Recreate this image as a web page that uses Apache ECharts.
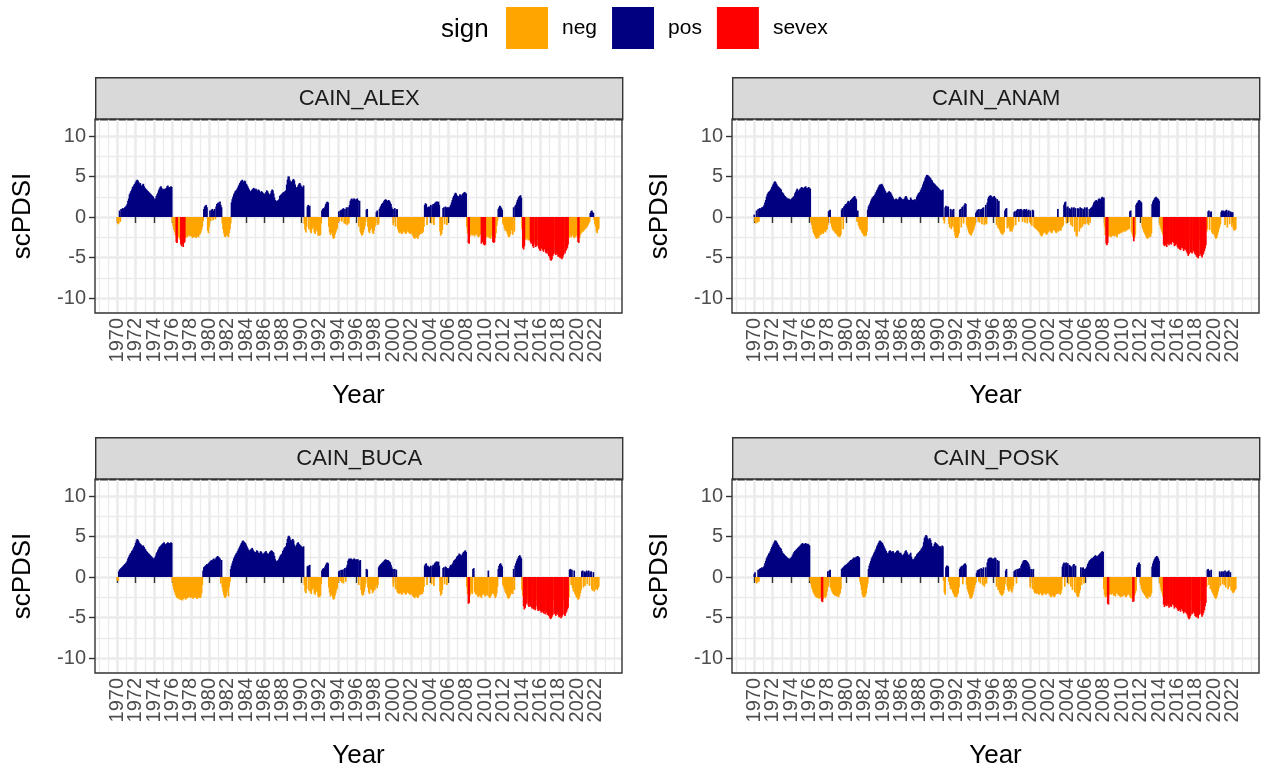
<!DOCTYPE html>
<html>
<head>
<meta charset="utf-8">
<script src="https://cdn.jsdelivr.net/npm/echarts@6/dist/echarts.min.js"></script>
<style>
  html, body { margin: 0; padding: 0; background: #ffffff; }
  #chart { width: 1261px; height: 767px; }
</style>
</head>
<body>
<div id="chart"></div>
<script>
// Monthly scPDSI per station, one row per year starting in January 1970.
const START_YEAR = 1970;
const stations = ['CAIN_ALEX', 'CAIN_ANAM', 'CAIN_BUCA', 'CAIN_POSK'];
const signs = ['neg', 'pos', 'sevex'];

const alexMonthly = [
  [-0.5,-0.9,-0.8,0.8,-0.6,1.0,1.0,1.1,1.0,1.1,1.2,1.3],
  [1.4,1.6,2.0,2.3,2.8,3.0,3.2,3.4,3.7,3.8,4.0,4.1],
  [4.3,4.5,4.6,4.5,4.3,4.1,4.2,3.9,3.8,4.0,4.1,3.8],
  [3.6,3.5,3.4,3.3,3.2,3.1,3.0,2.9,2.8,2.7,2.6,2.5],
  [2.3,2.1,2.3,2.6,2.8,3.0,3.3,3.5,3.7,3.8,3.6,3.4],
  [3.4,3.5,3.3,3.5,3.6,3.8,3.9,3.7,3.6,3.7,3.8,3.7],
  [-0.6,-1.2,-1.6,-1.9,-2.3,-3.1,-3.2,-2.5,-2.4,-2.6,-2.8,-3.4],
  [-3.6,-3.3,-3.7,-3.2,-3.1,-2.6,-2.4,-2.5,-2.3,-2.2,-2.4,-2.3],
  [-2.3,-2.4,-2.6,-2.5,-2.3,-2.5,-2.4,-2.6,-2.4,-2.3,-2.5,-2.2],
  [-2.1,-1.9,-1.6,-1.2,-0.5,1.0,1.3,1.4,1.5,1.2,-1.7,-2.0],
  [-1.2,0.8,-0.5,0.9,1.0,-0.4,0.8,1.0,-0.3,1.3,1.6,1.7],
  [1.8,1.7,1.9,1.5,1.2,-0.8,-1.5,-2.0,-2.4,-2.5,-2.3,-2.1],
  [-2.3,-2.5,-2.0,-1.5,-0.8,1.8,2.2,2.5,2.8,3.0,3.2,3.3],
  [3.4,3.6,3.8,4.0,4.2,4.4,4.5,4.6,4.4,4.3,4.5,4.4],
  [4.1,4.0,3.8,3.6,3.4,3.2,3.1,3.3,3.4,3.5,3.6,3.5],
  [3.4,3.5,3.3,3.2,3.4,3.3,3.1,3.0,3.2,3.1,3.0,2.9],
  [2.8,2.9,3.1,3.3,3.2,3.0,2.8,2.7,2.9,3.2,3.4,3.3],
  [2.9,2.4,2.1,2.0,1.9,2.0,2.1,2.2,2.6,2.7,2.8,2.9],
  [3.0,3.1,3.0,3.2,3.3,4.0,4.6,5.0,5.0,4.6,4.4,4.3],
  [4.4,4.6,4.7,4.5,4.0,3.7,3.6,3.7,3.9,4.1,4.2,4.0],
  [3.8,3.7,3.6,3.9,-0.9,-1.6,-1.9,-1.2,1.3,1.5,-1.5,1.4],
  [-1.8,-2.0,-1.5,-1.0,-1.3,-1.9,-2.1,-1.7,-1.4,-1.8,-2.3,-2.2],
  [-2.3,-2.2,-0.8,0.8,1.0,1.1,1.0,1.3,1.6,1.8,1.9,1.8],
  [-1.2,-1.9,-2.2,-2.0,-1.8,-2.4,-2.7,-2.6,-2.2,-1.9,-1.6,-1.4],
  [-0.7,0.7,-0.5,0.8,0.9,-0.6,1.0,1.1,-0.8,1.0,-0.9,1.2],
  [-1.0,1.2,-0.8,1.5,2.0,2.2,2.3,2.1,2.2,2.3,2.2,2.1],
  [2.2,2.3,2.1,-1.2,2.0,-1.8,-2.1,-2.3,-2.2,-1.9,-1.5,-1.1],
  [-0.6,0.9,1.0,-1.2,-1.8,-2.0,-1.6,-0.9,-1.4,-1.9,-2.1,-1.7],
  [-1.2,-1.0,0.6,0.8,-1.0,-0.8,1.0,1.2,1.4,1.6,1.7,1.8],
  [2.0,2.1,2.2,2.1,2.0,1.9,2.1,2.0,1.8,1.6,1.2,1.0],
  [-1.0,1.0,1.1,-1.2,0.9,1.0,-1.5,-1.8,-2.0,-1.7,-1.9,-2.1],
  [-2.0,-1.8,-1.6,-1.9,-2.1,-2.0,-1.8,-1.7,-1.9,-2.0,-2.1,-1.9],
  [-2.0,-2.2,-2.4,-2.6,-2.7,-2.5,-2.3,-2.6,-2.7,-2.4,-2.2,-2.0],
  [-2.1,-1.9,-2.0,-1.8,-1.2,1.5,1.7,1.6,-1.0,1.2,1.3,1.2],
  [1.3,1.5,-0.8,1.4,1.6,-1.0,1.7,1.8,1.9,1.9,1.8,1.9],
  [1.5,-1.8,-2.3,-2.1,-1.6,1.1,1.2,-0.9,1.3,1.2,-1.0,1.2],
  [1.2,1.1,1.3,1.5,1.8,2.1,2.4,2.6,2.8,3.0,2.9,2.7],
  [2.6,2.5,2.6,2.8,2.7,2.6,2.8,2.9,3.0,3.1,3.0,2.9],
  [-1.2,-2.0,-3.2,-3.3,-2.4,-2.2,-2.1,-2.3,-2.0,-2.2,-2.4,-2.1],
  [-2.2,-2.0,-2.3,-2.5,-2.4,-2.1,-2.2,-3.3,-3.1,-2.4,-3.4,-3.5],
  [-3.4,-2.6,-2.5,-2.3,-2.4,-2.6,-2.5,-2.7,-2.2,-2.4,-3.1,-3.2],
  [-3.1,-2.6,-2.0,-1.1,-0.5,1.0,1.2,1.4,1.3,1.1,0.9,-0.8],
  [-1.0,-1.4,-1.7,-1.5,-1.8,-2.1,-2.4,-2.5,-2.3,-2.1,-1.6,-1.0],
  [-2.2,1.2,-1.8,1.4,1.5,1.8,2.1,2.3,2.5,2.6,2.7,2.4],
  [-1.5,-3.8,-4.0,-3.6,-2.6,-2.8,-2.5,-2.7,-2.9,-2.6,-2.8,-3.1],
  [-3.3,-2.8,-3.6,-3.8,-2.9,-3.4,-3.7,-3.5,-2.8,-3.6,-3.9,-4.1],
  [-4.2,-3.9,-2.9,-4.1,-4.3,-4.0,-2.8,-4.4,-4.5,-4.2,-4.6,-4.8],
  [-5.0,-5.3,-5.4,-5.2,-4.8,-4.6,-2.9,-4.5,-4.7,-4.4,-4.6,-4.9],
  [-4.8,-5.0,-5.1,-4.9,-5.2,-5.0,-4.7,-2.9,-4.5,-4.2,-4.0,-3.8],
  [-3.4,-2.6,-2.4,-2.2,-2.5,-2.3,-2.1,-2.4,-2.6,-2.5,-2.3,-2.2],
  [-2.5,-3.1,-3.2,-2.6,-2.2,-2.0,-1.9,-1.7,-1.8,-1.6,-1.5,-1.4],
  [-1.3,-1.2,-1.0,-0.8,-0.6,0.5,0.7,0.8,0.6,0.5,-0.4,-0.9],
  [-1.2,-1.8,-2.0,-1.6,-1.4]
];

const anamMonthly = [
  [0.3,-0.6,-0.8,0.8,-0.7,1.0,-0.6,1.1,1.0,1.1,1.2,1.2],
  [1.3,1.5,1.8,2.1,2.5,2.8,3.0,3.1,3.2,3.3,3.5,3.7],
  [3.9,4.1,4.3,4.4,4.3,4.1,3.9,3.8,3.7,3.6,3.5,3.4],
  [3.1,3.0,2.9,2.7,2.6,2.5,2.4,2.3,2.2,2.3,2.2,2.1],
  [2.2,2.3,2.4,2.5,2.6,2.9,3.1,3.3,3.5,3.3,3.2,3.4],
  [3.5,3.6,3.7,3.6,3.5,3.6,3.7,3.8,3.6,3.5,3.6,3.7],
  [3.6,3.5,-0.6,-1.0,-1.5,-1.9,-2.1,-2.3,-2.5,-2.7,-2.6,-2.4],
  [-2.6,-2.3,-2.1,-2.2,-2.0,-1.9,-2.1,-1.8,-1.7,-1.9,-1.6,-1.5],
  [-1.0,0.7,0.8,0.9,-0.8,-1.2,-1.5,-1.7,-1.6,-1.9,-2.0,-2.1],
  [-2.2,-2.4,-2.3,-2.5,-2.4,-2.2,0.9,1.1,-1.5,1.3,1.4,1.6],
  [1.6,1.7,1.9,2.0,1.8,1.9,2.1,2.2,2.3,2.4,2.5,2.6],
  [2.4,2.2,-0.6,0.8,-1.0,-1.3,-1.5,-1.6,-1.8,-2.0,-2.1,-2.3],
  [-2.4,-2.2,-2.3,-1.8,0.9,1.3,1.5,1.7,2.0,2.2,2.4,2.5],
  [2.6,2.7,2.9,3.1,3.3,3.5,3.7,3.9,4.0,4.0,4.1,4.0],
  [3.8,3.6,3.4,3.2,3.0,2.9,3.0,3.1,3.2,3.1,3.0,2.8],
  [2.6,2.4,2.2,2.1,2.2,2.3,2.2,2.1,2.2,2.4,2.5,2.4],
  [2.3,2.2,2.1,2.2,2.3,2.5,2.6,2.4,2.2,2.1,2.0,2.1],
  [2.4,2.2,2.1,2.0,2.1,2.2,2.0,2.2,2.5,2.7,2.9,3.0],
  [3.1,3.3,3.5,3.7,4.0,4.3,4.5,4.8,5.0,5.2,5.2,5.1],
  [5.0,4.9,4.8,4.6,4.5,4.3,4.2,4.1,4.0,3.9,3.8,3.7],
  [3.6,3.5,3.4,3.3,3.2,3.3,3.4,-0.4,-0.8,1.2,1.4,1.3],
  [1.2,1.3,-0.9,-1.3,1.0,-1.5,0.9,-1.2,1.0,-1.8,-2.3,-2.6],
  [-2.5,-2.6,-2.3,-2.0,0.9,1.0,-1.3,1.2,1.3,-0.8,1.5,1.7],
  [1.6,-1.0,-1.3,-1.6,-1.9,-2.1,-2.2,-2.3,-2.0,-1.8,-1.6,-1.3],
  [-1.0,0.5,0.7,0.9,-0.6,1.0,-0.7,0.9,1.0,-0.9,1.1,1.2],
  [-1.0,-0.8,1.5,-0.9,1.8,2.3,2.5,2.6,2.7,2.6,2.5,2.4],
  [2.5,2.6,2.4,2.3,-1.0,2.2,-1.4,2.0,-1.6,-1.8,-2.0,-2.1],
  [-2.2,-2.0,-1.8,0.8,1.0,1.1,-1.4,-1.2,-0.9,-1.5,-1.8,-1.6],
  [-1.8,-1.5,-1.2,0.6,0.7,-1.0,0.8,0.9,1.0,-0.6,0.9,1.0],
  [1.0,0.9,-0.6,0.8,1.0,-0.7,0.9,1.0,-0.8,0.8,0.9,-0.6],
  [0.8,-0.9,-1.1,0.9,0.8,-1.2,-1.4,-1.3,-1.5,-1.6,-1.7,-1.8],
  [-1.9,-2.1,-2.3,-2.4,-2.2,-2.0,-1.9,-1.8,-2.0,-2.2,-2.1,-1.9],
  [-1.8,-1.6,-1.7,-1.9,-2.0,-1.8,-1.6,-1.5,-1.7,-1.9,-2.0,-1.8],
  [1.0,-1.8,-1.6,-1.5,-1.7,-1.3,-1.2,-1.0,1.5,1.8,1.9,-0.8],
  [1.2,1.3,-0.6,1.1,1.0,-1.0,1.2,-1.2,1.1,1.2,-1.8,1.1],
  [-2.3,-2.4,1.1,1.0,-1.8,1.2,-1.4,1.1,-1.2,1.0,-0.9,1.2],
  [-0.9,1.1,1.2,-0.8,-1.0,1.0,-0.7,1.1,1.2,1.3,1.5,1.8],
  [1.9,2.0,2.1,1.9,2.0,2.2,2.3,2.1,2.2,2.4,2.5,2.3],
  [2.4,-1.2,-2.2,-3.3,-3.5,-3.2,-2.4,-2.3,-2.2,-2.5,-2.4,-2.2],
  [-2.3,-2.2,-2.4,-2.1,-2.3,-2.5,-2.2,-2.0,-2.1,-1.9,-2.0,-1.8],
  [-1.9,-1.7,-1.8,-1.6,-1.8,-1.7,-1.5,-1.6,-1.4,-1.5,0.7,0.8],
  [-1.8,-2.1,-2.4,-3.0,-2.6,-2.2,1.5,1.7,1.8,2.0,2.1,2.0],
  [1.9,1.8,-1.2,-1.5,-1.8,-2.0,-2.2,-2.4,-2.6,-2.7,-2.5,-2.2],
  [-2.5,-2.4,-2.0,1.6,1.9,2.1,2.3,2.4,2.5,2.4,2.3,2.2],
  [2.0,-1.0,-1.3,-1.6,-1.9,-2.2,-3.4,-3.6,-3.5,-2.8,-3.7,-3.3],
  [-3.2,-3.5,-2.7,-3.3,-3.4,-3.1,-2.6,-3.2,-3.6,-3.5,-2.8,-3.4],
  [-3.7,-3.9,-2.8,-4.0,-4.1,-3.8,-2.9,-3.9,-4.2,-4.0,-2.8,-4.1],
  [-4.3,-4.5,-4.8,-4.6,-2.9,-4.4,-4.3,-4.5,-2.9,-4.2,-4.4,-4.6],
  [-4.7,-4.9,-5.0,-5.1,-4.8,-2.9,-4.6,-4.8,-5.0,-4.7,-4.5,-4.2],
  [-3.9,-3.5,-1.8,-1.5,0.7,0.8,-1.6,0.6,0.7,-1.9,-2.1,-1.8],
  [-2.2,-2.5,-2.7,-2.6,-2.3,-1.9,-1.5,-1.2,-0.9,0.6,0.8,0.7],
  [0.8,0.7,-1.0,0.8,0.9,-1.3,0.7,0.8,-0.9,0.7,0.6,-1.2],
  [0.6,-1.5,-1.7,-1.6,-1.5]
];

const bucaMonthly = [
  [-0.4,-0.5,0.7,0.9,1.0,1.1,1.2,1.3,1.4,1.5,1.6,1.7],
  [1.8,2.0,2.3,2.5,2.7,2.9,3.0,3.2,3.3,3.5,3.7,3.9],
  [4.2,4.5,4.7,4.6,4.4,4.2,4.1,4.0,3.9,3.8,3.9,3.7],
  [3.5,3.4,3.2,3.1,3.0,2.9,2.8,2.7,2.6,2.5,2.4,2.3],
  [2.3,2.4,2.6,2.9,3.1,3.3,3.5,3.7,3.8,3.9,4.0,4.1],
  [4.2,4.3,4.1,4.0,4.1,4.2,4.3,4.2,4.1,4.2,4.3,4.2],
  [-0.6,-1.2,-1.6,-1.9,-2.2,-2.4,-2.6,-2.5,-2.7,-2.6,-2.8,-2.6],
  [-2.8,-2.9,-2.7,-2.5,-2.6,-2.8,-2.7,-2.4,-2.6,-2.5,-2.3,-2.5],
  [-2.6,-2.4,-2.5,-2.7,-2.6,-2.4,-2.5,-2.6,-2.7,-2.5,-2.6,-2.4],
  [-2.6,-2.5,-2.0,-1.0,0.8,1.2,1.3,1.4,1.5,1.6,1.5,1.7],
  [1.8,1.9,2.0,2.1,2.0,2.2,2.3,2.1,2.2,2.4,2.5,2.6],
  [2.5,2.4,2.3,-0.8,2.1,-1.3,-1.8,-2.2,-2.5,-2.6,-2.3,-1.8],
  [-1.5,-2.4,-1.2,-0.6,1.0,1.4,1.7,2.0,2.3,2.5,2.7,2.9],
  [3.0,3.2,3.4,3.6,3.8,4.0,4.2,4.4,4.5,4.4,4.3,4.2],
  [4.0,3.8,3.6,3.4,3.2,3.3,3.4,3.5,3.6,3.4,3.2,3.1],
  [3.0,3.1,3.3,3.2,3.0,2.9,3.0,3.2,3.1,2.9,2.8,2.9],
  [3.0,3.1,3.2,3.0,2.9,2.8,2.9,3.1,3.2,3.3,3.2,3.1],
  [3.0,2.6,2.2,2.0,1.9,2.0,2.1,2.3,2.5,2.7,2.8,2.9],
  [3.2,3.4,3.6,3.7,3.8,4.2,4.7,5.0,5.1,4.9,4.6,4.4],
  [4.6,4.7,4.5,4.0,3.7,3.8,4.0,4.2,4.3,4.1,4.0,3.9],
  [3.8,3.7,3.6,3.8,-1.0,-1.8,-2.0,-1.5,1.3,1.4,-1.7,1.5],
  [-1.9,-2.1,-1.6,-1.2,-1.4,-2.0,-2.2,-1.8,-1.5,-1.9,-2.4,-2.5],
  [-2.5,-2.3,-0.9,0.8,1.0,1.1,1.0,1.3,1.5,1.7,1.8,1.7],
  [-1.3,-1.9,-2.4,-2.2,-1.9,-2.5,-2.8,-2.7,-2.3,-2.0,-1.6,-1.4],
  [-0.7,0.7,0.8,-0.5,0.9,-0.7,0.9,-0.8,1.0,1.1,-0.6,1.2],
  [1.5,2.0,2.2,2.3,2.2,2.3,2.2,2.1,2.2,2.3,2.2,2.1],
  [2.2,2.1,2.2,-1.0,2.0,2.1,-1.6,-2.1,-2.3,-2.2,-1.8,-1.3],
  [-0.8,1.0,0.9,-1.3,-1.9,-2.1,-1.5,-1.0,-1.6,-2.0,-1.8,-1.4],
  [-1.6,-1.2,-0.9,-1.4,-1.0,1.2,1.4,1.5,1.6,1.7,1.8,1.9],
  [2.0,2.1,2.2,2.1,2.0,2.1,2.0,1.9,1.8,1.5,1.2,1.0],
  [-1.2,1.0,1.0,-1.5,0.9,-1.8,-2.0,-1.9,-2.1,-1.8,-2.0,-2.2],
  [-2.1,-1.9,-1.7,-2.0,-2.2,-2.1,-1.9,-1.8,-2.0,-2.1,-2.2,-2.0],
  [-2.1,-2.3,-2.4,-2.5,-2.6,-2.4,-2.3,-2.5,-2.6,-2.4,-2.2,-2.1],
  [-2.2,-2.0,-2.1,-1.8,-1.2,1.4,1.6,1.7,-1.0,1.4,1.3,1.2],
  [1.2,1.4,-0.9,1.3,1.5,-1.1,1.7,1.8,1.9,1.9,1.8,1.9],
  [1.4,-1.8,-2.3,-2.1,-1.6,1.1,1.2,-0.9,1.3,1.2,-1.0,1.1],
  [1.0,1.1,1.3,1.5,1.4,1.6,1.8,2.0,2.1,2.2,2.3,2.5],
  [2.6,2.7,2.9,2.8,2.7,2.6,2.8,3.0,3.1,3.2,3.3,3.1],
  [-1.2,-2.1,-3.3,-3.2,-2.3,-2.0,-1.8,-2.1,1.0,1.1,-1.8,-2.0],
  [-2.2,-2.0,-2.3,-2.5,-2.3,-2.1,-2.4,-2.6,-2.2,-1.9,-2.1,-2.3],
  [-2.4,-2.2,-2.0,-2.3,0.8,-2.5,-2.6,-2.4,-2.2,-2.0,-1.8,-2.1],
  [-2.3,-2.6,-2.4,-2.0,-1.2,1.0,1.4,1.6,1.7,1.5,1.3,-1.0],
  [-1.2,-1.5,-1.8,-2.0,-2.2,-2.5,-2.7,-2.6,-2.4,-2.2,-2.0,-1.8],
  [-2.1,1.0,-1.6,1.4,1.7,2.0,2.2,2.4,2.6,2.7,2.5,2.3],
  [-1.6,-2.3,-3.6,-4.0,-3.8,-3.4,-3.2,-2.8,-3.5,-3.7,-3.3,-3.6],
  [-3.7,-3.9,-2.9,-4.0,-3.8,-4.1,-3.6,-2.8,-4.0,-4.2,-3.9,-4.1],
  [-4.2,-4.4,-2.9,-4.3,-4.5,-4.2,-4.6,-2.9,-4.4,-4.7,-4.5,-4.8],
  [-5.0,-5.2,-5.1,-4.9,-4.7,-2.9,-4.5,-4.6,-4.8,-4.6,-4.4,-4.7],
  [-4.9,-5.0,-4.8,-5.1,-4.9,-4.7,-2.9,-4.6,-4.8,-4.5,-4.3,-4.0],
  [-3.8,-2.5,0.9,1.0,-1.0,0.9,-1.4,-1.8,0.8,-2.1,-2.3,-2.5],
  [-2.6,-2.8,-2.7,-2.4,-2.0,-1.6,0.7,0.8,-1.3,0.7,-1.1,0.6],
  [0.8,-0.9,0.7,0.8,-1.1,0.6,0.7,-1.5,-1.7,0.6,-1.8,-1.6],
  [-1.5,-1.3,-1.6,-1.4,-1.2]
];

const poskMonthly = [
  [0.4,0.6,-0.5,-0.8,-0.7,0.9,-0.6,1.0,1.1,1.0,1.2,1.1],
  [1.2,1.4,1.7,2.0,2.3,2.5,2.7,2.9,3.0,3.2,3.5,3.7],
  [3.9,4.1,4.3,4.5,4.5,4.4,4.2,4.0,3.9,3.7,3.6,3.5],
  [3.2,3.0,2.9,2.8,2.7,2.6,2.5,2.4,2.3,2.3,2.2,2.3],
  [2.4,2.5,2.7,2.9,3.1,3.2,3.3,3.4,3.5,3.6,3.7,3.8],
  [3.9,4.0,4.1,4.2,4.1,4.0,4.1,4.2,4.1,4.0,4.1,4.0],
  [3.9,-0.5,-0.9,-1.3,-1.6,-1.9,-2.1,-2.3,-2.4,-2.5,-2.6,-2.5],
  [-2.6,-2.7,-2.5,-2.6,-3.0,-3.1,-2.7,-2.5,-2.4,-2.6,-2.3,-1.8],
  [0.7,-1.2,0.8,0.9,-1.4,-1.7,-1.9,-2.1,-2.2,-2.3,-2.2,-2.4],
  [-2.3,-2.4,-2.5,-2.2,-2.0,-1.5,1.0,1.1,1.2,1.3,1.4,1.5],
  [1.5,1.6,1.7,1.8,1.9,2.0,2.1,2.1,2.2,2.3,2.4,2.3],
  [2.4,2.5,2.5,2.6,2.5,2.4,-0.6,-1.0,-1.6,-2.2,-2.5,-2.4],
  [-2.5,-2.3,-2.0,-1.4,-0.8,1.0,1.4,1.7,2.0,2.3,2.5,2.7],
  [2.9,3.1,3.3,3.5,3.8,4.0,4.2,4.4,4.5,4.4,4.3,4.2],
  [4.0,3.8,3.6,3.4,3.2,3.0,2.9,3.0,3.2,3.3,3.2,3.1],
  [3.1,3.2,3.0,2.9,3.0,3.1,3.2,3.3,3.2,3.0,2.9,3.0],
  [2.8,2.7,2.6,2.8,3.0,3.2,3.3,3.1,2.9,2.7,2.6,2.8],
  [3.0,2.5,2.2,2.1,2.2,2.3,2.5,2.6,2.8,2.9,3.0,3.1],
  [3.2,3.3,3.5,3.6,3.8,4.3,4.8,5.0,5.2,5.1,4.8,4.5],
  [4.7,4.8,4.6,4.2,3.8,3.6,3.8,4.1,4.3,4.2,4.1,4.0],
  [3.9,3.8,3.7,3.8,3.6,3.9,3.8,-0.5,-1.9,-2.2,1.2,1.4],
  [1.4,1.3,-0.6,-1.0,-1.5,-1.3,-1.6,-1.9,-2.1,-2.3,-2.5,-2.4],
  [-2.5,-2.2,-2.0,-1.3,1.0,1.2,1.3,1.4,-0.9,1.5,1.6,1.7],
  [1.5,-1.0,-1.5,-1.8,-2.1,-2.4,-2.7,-2.6,-2.5,-2.2,-1.8,-1.4],
  [-1.0,-0.6,0.5,0.8,0.9,-0.6,1.0,-0.8,1.1,1.0,-1.0,1.2],
  [-1.2,-0.9,1.2,-0.8,1.8,2.2,2.3,2.4,2.3,2.4,2.3,2.2],
  [2.3,2.2,2.4,2.3,-1.2,2.1,-1.6,2.0,-1.9,-2.1,-2.2,-2.3],
  [-2.2,-2.0,-1.6,-0.9,0.8,1.0,-1.2,-1.6,-1.8,-1.5,-1.3,-1.7],
  [-1.9,-1.5,-1.1,0.7,0.8,0.9,-0.8,1.0,0.9,1.0,1.1,1.0],
  [1.4,1.6,1.8,2.0,2.1,2.0,2.1,2.0,1.9,1.8,1.6,1.3],
  [-1.3,1.0,0.9,-1.5,1.0,-1.8,-2.0,-1.9,-2.1,-2.0,-1.9,-2.2],
  [-2.1,-1.9,-2.0,-2.2,-2.3,-2.1,-1.9,-2.0,-2.2,-2.1,-2.0,-1.9],
  [-2.0,-2.2,-2.3,-2.5,-2.4,-2.2,-2.3,-2.5,-2.4,-2.2,-2.1,-2.0],
  [-2.1,-2.0,-1.9,-2.2,-2.0,-1.6,1.3,1.6,1.8,-1.2,1.7,1.8],
  [1.6,1.7,-0.9,1.5,1.4,-1.2,1.3,-1.6,1.5,1.6,-1.9,1.4],
  [-2.0,-2.3,-2.5,-2.4,-2.0,-1.6,1.2,-1.0,1.1,1.2,-0.8,1.0],
  [1.0,1.1,1.3,1.6,1.8,2.0,2.1,2.2,2.3,2.3,2.4,2.5],
  [2.6,2.7,2.5,2.6,2.5,2.7,2.8,2.9,3.0,3.1,3.2,3.1],
  [-1.5,-2.2,-2.5,-2.3,-2.4,-3.3,-3.4,-2.2,-2.0,-2.1,-2.2,-2.0],
  [-2.1,-2.3,-2.2,-2.4,-2.0,-1.9,-2.1,-2.3,-2.2,-2.4,-2.5,-2.3],
  [-2.4,-2.3,-2.1,-2.2,-2.4,-2.5,-2.3,-2.2,-2.0,-2.2,-2.4,-2.6],
  [-2.5,-2.7,-3.1,-3.0,-2.3,-2.0,-1.7,1.2,1.5,1.7,1.8,1.6],
  [-1.0,-1.4,-1.7,-1.9,-2.0,-2.2,-2.3,-2.5,-2.6,-2.7,-2.4,-2.2],
  [-2.5,-2.3,-2.0,1.3,1.7,2.0,2.2,2.4,2.5,2.6,2.5,2.3],
  [2.0,-0.8,-1.3,-1.7,-2.0,-2.4,-3.4,-3.7,-3.5,-2.9,-3.6,-3.3],
  [-3.5,-3.8,-2.8,-3.6,-3.7,-3.4,-2.9,-3.5,-3.9,-3.7,-2.9,-3.8],
  [-4.0,-4.2,-2.9,-4.1,-4.3,-4.0,-2.8,-4.2,-4.5,-4.3,-2.9,-4.4],
  [-4.5,-4.7,-5.0,-5.2,-5.1,-4.8,-2.9,-4.6,-4.4,-4.3,-4.5,-4.8],
  [-4.9,-5.0,-4.8,-5.1,-4.7,-4.5,-2.9,-4.6,-4.9,-4.7,-4.4,-4.1],
  [-3.6,-3.2,-1.2,0.9,1.0,-1.0,0.8,-1.5,0.9,-1.8,-2.0,-2.2],
  [-2.4,-2.6,-2.7,-2.5,-2.2,-1.8,-1.4,0.7,-1.1,0.6,0.7,-0.9],
  [0.7,-1.0,0.8,-1.3,0.6,0.7,-1.5,0.8,-1.2,0.6,-1.6,-1.7],
  [-1.9,-2.0,-1.8,-1.6,-1.5]
];

const stationMonthly = [alexMonthly, anamMonthly, bucaMonthly, poskMonthly];

// Axis breaks: labelled years are split over two bottom axes so that
// neighbouring rotated labels are never culled as overlapping.
const yearTicks = [1970,1972,1974,1976,1978,1980,1982,1984,1986,1988,1990,1992,1994,1996,
  1998,2000,2002,2004,2006,2008,2010,2012,2014,2016,2018,2020,2022];
const yearLabelsA = [1970,1974,1978,1982,1986,1990,1994,1998,2002,2006,2010,2014,2018,2022];
const yearLabelsB = [1972,1976,1980,1984,1988,1992,1996,2000,2004,2008,2012,2016,2020];
const minorYearTicks = [1968,1969,1971,1973,1975,1977,1979,1981,1983,1985,1987,1989,1991,1993,
  1995,1997,1999,2001,2003,2005,2007,2009,2011,2013,2015,2017,2019,2021,2023,2024];
const yTicks = [-10, -5, 0, 5, 10];
const yMinorTicks = [-7.5, -2.5, 2.5, 7.5];

const X_MIN = 1967.58, X_MAX = 2024.86;
const Y_MIN = -11.85, Y_MAX = 12.1;

const COLORS = { neg: '#FFA500', pos: '#000080', sevex: '#FF0000' };
const FONT = '"Liberation Sans", Arial, sans-serif';

// Panel frames: [left, top] of each plotting area
const PANEL_W = 527, PANEL_H = 194, STRIP_H = 42;
const panelPos = [[95, 119], [732, 119], [95, 479], [732, 479]];

function signOf(v) {
  if (v >= 0) return 'pos';
  if (v > -3) return 'neg';
  return 'sevex';
}

const xLabelStyle = {
  show: true, rotate: 90, margin: 5, fontSize: 20,
  showMinLabel: true, showMaxLabel: true, hideOverlap: false,
  color: '#4D4D4D', fontFamily: FONT, formatter: v => String(v)
};

const grid = [], xAxis = [], yAxis = [], series = [], graphic = [];

panelPos.forEach(([left, top], k) => {
  grid.push({
    left, top, width: PANEL_W, height: PANEL_H,
    show: true, borderWidth: 0, backgroundColor: '#ffffff',
    containLabel: false, outerBoundsMode: 'none'
  });

  // x axis A: ticks, major grid, half of the labels, axis title
  xAxis.push({
    type: 'value', gridIndex: k, min: X_MIN, max: X_MAX, position: 'bottom',
    name: 'Year', nameLocation: 'middle', nameGap: 70,
    nameTextStyle: { fontSize: 26, color: '#000000', fontFamily: FONT },
    axisLine: { show: false },
    axisTick: { show: true, customValues: yearTicks, length: 6, lineStyle: { color: '#333333', width: 1.4 } },
    axisLabel: Object.assign({ customValues: yearLabelsA }, xLabelStyle),
    splitLine: { show: true, lineStyle: { color: '#EBEBEB', width: 2.6 } }
  });
  // x axis B: the remaining labels
  xAxis.push({
    type: 'value', gridIndex: k, min: X_MIN, max: X_MAX, position: 'bottom', offset: 0,
    axisLine: { show: false },
    axisTick: { show: false, customValues: yearLabelsB },
    axisLabel: Object.assign({ customValues: yearLabelsB }, xLabelStyle),
    splitLine: { show: false }
  });
  // x axis C: minor grid
  xAxis.push({
    type: 'value', gridIndex: k, min: X_MIN, max: X_MAX, position: 'top',
    axisLine: { show: false },
    axisTick: { show: false, customValues: minorYearTicks },
    axisLabel: { show: false },
    splitLine: { show: true, lineStyle: { color: '#EBEBEB', width: 1.3 } }
  });

  yAxis.push({
    type: 'value', gridIndex: k, min: Y_MIN, max: Y_MAX, position: 'left',
    name: 'scPDSI', nameLocation: 'middle', nameGap: 59, nameRotate: 90,
    nameTextStyle: { fontSize: 26, color: '#000000', fontFamily: FONT },
    axisLine: { show: false },
    axisTick: { show: true, customValues: yTicks, length: 6, lineStyle: { color: '#333333', width: 1.4 } },
    axisLabel: { show: true, customValues: yTicks, margin: 9, fontSize: 20,
      showMinLabel: true, showMaxLabel: true,
      color: '#4D4D4D', fontFamily: FONT, formatter: v => String(v) },
    splitLine: { show: true, lineStyle: { color: '#EBEBEB', width: 2.6 } }
  });
  yAxis.push({
    type: 'value', gridIndex: k, min: Y_MIN, max: Y_MAX, position: 'right',
    axisLine: { show: false },
    axisTick: { show: false, customValues: yMinorTicks },
    axisLabel: { show: false },
    splitLine: { show: true, lineStyle: { color: '#EBEBEB', width: 1.3 } }
  });

  // monthly bars split by drought class
  const buckets = { neg: [], pos: [], sevex: [] };
  stationMonthly[k].forEach((row, yi) => {
    row.forEach((v, m) => {
      buckets[signOf(v)].push([START_YEAR + yi + m / 12, v]);
    });
  });
  signs.forEach(s => {
    series.push({
      name: s, type: 'bar', xAxisIndex: 3 * k, yAxisIndex: 2 * k,
      data: buckets[s], barWidth: 1.7, barGap: '-100%',
      itemStyle: { color: COLORS[s] }, emphasis: { disabled: true },
      clip: true, silent: true
    });
  });

  // facet strip
  graphic.push({
    type: 'group', left: left, top: top - STRIP_H, z: 100,
    children: [
      { type: 'rect', shape: { x: 0, y: 0, width: PANEL_W, height: STRIP_H },
        style: { fill: '#D9D9D9', stroke: '#333333', lineWidth: 1.4 } },
      { type: 'text', x: PANEL_W / 2, y: STRIP_H / 2,
        style: { text: stations[k], fill: '#1A1A1A', font: '22px ' + FONT,
          textAlign: 'center', textVerticalAlign: 'middle' } }
    ]
  });
  // panel frame drawn above the grid lines
  graphic.push({
    type: 'rect', z: 100, silent: true,
    shape: { x: left, y: top, width: PANEL_W, height: PANEL_H },
    style: { fill: null, stroke: '#333333', lineWidth: 1.4 }
  });
});

// legend title
graphic.push({
  type: 'text', left: 441, top: 17,
  style: { text: 'sign', fill: '#000000', font: '26px ' + FONT }
});

const chart = echarts.init(document.getElementById('chart'), null, { renderer: 'canvas' });
chart.setOption({
  animation: false,
  backgroundColor: '#ffffff',
  legend: {
    data: signs, left: 506, top: 7, padding: 0, orient: 'horizontal',
    icon: 'rect', itemWidth: 42, itemHeight: 42, itemGap: 15,
    selectedMode: false,
    textStyle: { fontSize: 21, color: '#000000', fontFamily: FONT, padding: [0, 0, 0, 9] }
  },
  grid, xAxis, yAxis, series, graphic
});
</script>
</body>
</html>
